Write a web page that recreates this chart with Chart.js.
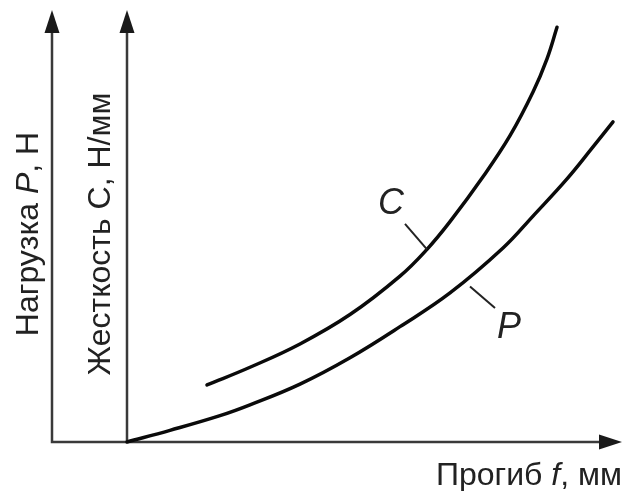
<!DOCTYPE html>
<html>
<head>
<meta charset="utf-8">
<script src="https://cdn.jsdelivr.net/npm/chart.js@4/dist/chart.umd.min.js"></script>
<style>
  html, body { margin: 0; padding: 0; background: #fff; }
  #wrap { width: 625px; height: 491px; }
</style>
</head>
<body>
<div id="wrap"><canvas id="c" width="625" height="491"></canvas></div>
<script>
// ---- data (arbitrary units) ----
const deflectionP = [0, 0.86, 1.86, 2.46, 3.46, 4.46, 5.46, 6.46, 7.52, 8.12, 8.80, 9.32, 9.72];
const loadP       = [0, 0.27, 0.61, 0.86, 1.34, 1.95, 2.67, 3.45, 4.49, 5.23, 6.09, 6.83, 7.41];
const deflectionC = [1.60, 2.46, 3.46, 4.46, 5.46, 6.00, 6.46, 7.12, 7.66, 8.12, 8.40, 8.60];
const stiffnessC  = [1.32, 1.73, 2.27, 2.95, 3.84, 4.46, 5.10, 6.14, 7.09, 8.10, 8.87, 9.60];

const xRange = [-1.5, 9.9];
const yRange = [0, 10];
const axisPX = -1.5;   // load axis position (f)
const axisCX = 0;      // stiffness axis position (f)

// curve label leaders: [fromX, fromY, toX, toY], label anchor [x, y]
const leaderC = [6.00, 4.46, 5.56, 5.05];
const labelC  = [5.28, 5.51];
const leaderP = [6.86, 3.60, 7.36, 3.10];
const labelP  = [7.64, 2.64];

const titleX = ['Прогиб ', 'f', ', мм'];
const titleP = ['Нагрузка ', 'P', ', Н'];
const titleC = ['Жесткость C, Н/мм'];

const toPts = (xs, ys) => xs.map((x, i) => ({x: x, y: ys[i]}));

const FONT = '"Liberation Sans", Arial, sans-serif';

function drawMixed(ctx, parts, x, y, size, align) {
  const fonts = parts.map((p, i) => (i % 2 === 1 ? 'italic ' : '') + size + 'px ' + FONT);
  let total = 0;
  const widths = parts.map((p, i) => { ctx.font = fonts[i]; const w = ctx.measureText(p).width; total += w; return w; });
  let cx = align === 'right' ? x - total : (align === 'center' ? x - total / 2 : x);
  parts.forEach((p, i) => { ctx.font = fonts[i]; ctx.fillText(p, cx, y); cx += widths[i]; });
}

function arrowHead(ctx, tx, ty, dir) {
  const L = 23, W = 7.5;
  ctx.beginPath();
  if (dir === 'up') {
    ctx.moveTo(tx, ty); ctx.lineTo(tx - W, ty + L); ctx.lineTo(tx + W, ty + L);
  } else {
    ctx.moveTo(tx, ty); ctx.lineTo(tx - L, ty - W); ctx.lineTo(tx - L, ty + W);
  }
  ctx.closePath();
  ctx.fill();
}

const decor = {
  id: 'decor',
  beforeDatasetsDraw(chart) {
    const ctx = chart.ctx, xs = chart.scales.x, ys = chart.scales.y;
    const x0 = xs.getPixelForValue(axisPX), x1 = xs.getPixelForValue(axisCX);
    const xEnd = xs.getPixelForValue(xRange[1]);
    const yb = ys.getPixelForValue(0), yt = ys.getPixelForValue(yRange[1]);
    ctx.save();
    ctx.strokeStyle = '#3a3a3a'; ctx.fillStyle = '#1a1a1a'; ctx.lineWidth = 2.5;
    ctx.beginPath();
    ctx.moveTo(x0, yt + 15); ctx.lineTo(x0, yb);
    ctx.lineTo(xEnd - 15, yb);
    ctx.moveTo(x1, yt + 15); ctx.lineTo(x1, yb);
    ctx.stroke();
    arrowHead(ctx, x0, yt, 'up');
    arrowHead(ctx, x1, yt, 'up');
    arrowHead(ctx, xEnd, yb, 'right');
    ctx.restore();
  },
  afterDatasetsDraw(chart) {
    const ctx = chart.ctx, xs = chart.scales.x, ys = chart.scales.y;
    const px = v => xs.getPixelForValue(v), py = v => ys.getPixelForValue(v);
    ctx.save();
    ctx.fillStyle = '#222'; ctx.strokeStyle = '#222'; ctx.lineWidth = 2;
    [leaderC, leaderP].forEach(l => {
      ctx.beginPath(); ctx.moveTo(px(l[0]), py(l[1])); ctx.lineTo(px(l[2]), py(l[3])); ctx.stroke();
    });
    ctx.textBaseline = 'middle'; ctx.textAlign = 'center';
    ctx.font = 'italic 36px ' + FONT;
    ctx.fillText('C', px(labelC[0]), py(labelC[1]));
    ctx.fillText('P', px(labelP[0]), py(labelP[1]));
    ctx.textAlign = 'left'; ctx.textBaseline = 'alphabetic';
    drawMixed(ctx, titleX, px(xRange[1]), py(0) + 43, 32, 'right');
    const midY = py(yRange[1] / 2) + 8;
    ctx.save();
    ctx.translate(px(axisPX) - 14, midY);
    ctx.rotate(-Math.PI / 2);
    drawMixed(ctx, titleP, 0, 0, 32, 'center');
    ctx.restore();
    ctx.save();
    ctx.translate(px(axisCX) - 17, midY);
    ctx.rotate(-Math.PI / 2);
    drawMixed(ctx, titleC, 0, 0, 32, 'center');
    ctx.restore();
    ctx.restore();
  }
};

new Chart(document.getElementById('c'), {
  type: 'line',
  data: {
    datasets: [
      { label: 'C', data: toPts(deflectionC, stiffnessC), borderColor: '#0a0a0a', borderWidth: 3.5,
        pointRadius: 0, tension: 0.4, fill: false, clip: false, borderCapStyle: 'round' },
      { label: 'P', data: toPts(deflectionP, loadP), borderColor: '#0a0a0a', borderWidth: 3.5,
        pointRadius: 0, tension: 0.4, fill: false, clip: false, borderCapStyle: 'round' }
    ]
  },
  options: {
    responsive: false,
    animation: false,
    devicePixelRatio: 1,
    layout: { padding: { left: 52, right: 3, top: 10, bottom: 49 } },
    plugins: { legend: { display: false }, tooltip: { enabled: false } },
    scales: {
      x: { type: 'linear', min: xRange[0], max: xRange[1], display: false },
      y: { type: 'linear', min: yRange[0], max: yRange[1], display: false }
    }
  },
  plugins: [decor]
});
</script>
</body>
</html>
